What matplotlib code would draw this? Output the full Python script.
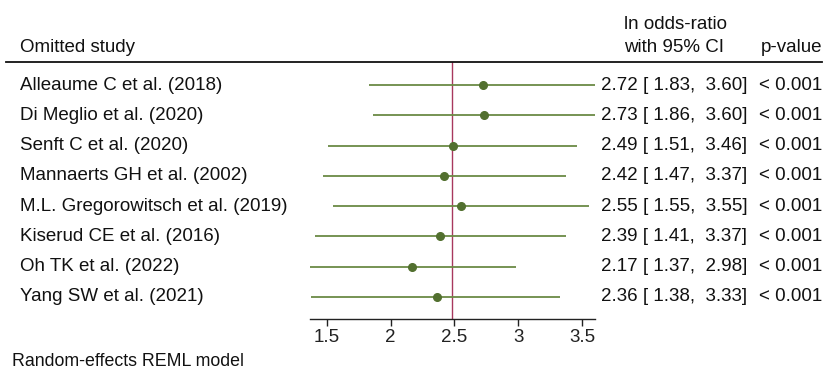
import matplotlib
matplotlib.use("Agg")
import matplotlib.pyplot as plt
from matplotlib.lines import Line2D
import matplotlib.transforms as mtrans

studies = ["Alleaume C et al. (2018)", "Di Meglio et al. (2020)", "Senft C et al. (2020)",
           "Mannaerts GH et al. (2002)", "M.L. Gregorowitsch et al. (2019)",
           "Kiserud CE et al. (2016)", "Oh TK et al. (2022)", "Yang SW et al. (2021)"]
est = [2.72, 2.73, 2.49, 2.42, 2.55, 2.39, 2.17, 2.36]
lo = [1.83, 1.86, 1.51, 1.47, 1.55, 1.41, 1.37, 1.38]
hi = [3.60, 3.60, 3.46, 3.37, 3.55, 3.37, 2.98, 3.33]
pvals = ["< 0.001"] * 8
overall = 2.485
xticks = [1.5, 2, 2.5, 3, 3.5]
xticklabels = ["1.5", "2", "2.5", "3", "3.5"]

plt.rcParams['font.family'] = ['Liberation Sans', 'DejaVu Sans']
W, H = 827, 374
fig = plt.figure(figsize=(W / 100, H / 100), dpi=100)
FS = 13.5

def fx(px):
    return px / W

def fy(py):
    return 1 - py / H

# plot axes: x 310..595 px, y 62..319 px
ax = fig.add_axes([fx(310), fy(319), fx(595) - fx(310), fy(62) - fy(319)])
ax.set_xlim(min(lo), max(hi))
n = len(studies)
rows = list(range(1, n + 1))
ax.set_ylim(n + 0.73, 0.24)

green = '#6b8a45'
dark = '#52702f'
ax.axvline(overall, color='#a8385e', lw=1.0, zorder=1)
ax.hlines(rows, lo, hi, color=green, lw=1.3, zorder=2)
ax.plot(est, rows, 'o', color=dark, ms=5.5, zorder=3)

for s in ['top', 'right', 'left']:
    ax.spines[s].set_visible(False)
ax.spines['bottom'].set_color('#222222')
ax.spines['bottom'].set_linewidth(1.0)
ax.set_yticks([])
ax.set_xticks(xticks)
ax.set_xticklabels(xticklabels, fontsize=FS, color='#222222')
ax.tick_params(axis='x', direction='out', length=5, width=1.0, color='#222222', pad=2)
ax.patch.set_alpha(0)

blend = mtrans.blended_transform_factory(fig.transFigure, ax.transData)

for r, s, e, l, h, p in zip(rows, studies, est, lo, hi, pvals):
    ax.text(fx(20), r, s, transform=blend, fontsize=FS, va='center', ha='left', color='#111111')
    ax.text(fx(601), r, f"{e:.2f} [ {l:.2f},  {h:.2f}]", transform=blend, fontsize=FS,
            va='center', ha='left', color='#111111')
    ax.text(fx(822), r, p, transform=blend, fontsize=FS, va='center', ha='right', color='#111111')

# header
fig.text(fx(20), fy(52), "Omitted study", fontsize=FS, va='baseline', ha='left', color='#111111')
fig.text(fx(675), fy(29), "ln odds-ratio", fontsize=FS, va='baseline', ha='center', color='#111111')
fig.text(fx(674), fy(52), "with 95% CI", fontsize=FS, va='baseline', ha='center', color='#111111')
fig.text(fx(822), fy(52), "p-value", fontsize=FS, va='baseline', ha='right', color='#111111')
fig.add_artist(Line2D([fx(6), fx(822)], [fy(62), fy(62)], transform=fig.transFigure, color='#111111', lw=1.3))

fig.text(fx(12), fy(362), "Random-effects REML model", fontsize=12.8, va='center', ha='left', color='#111111')

fig.savefig("out.png", dpi=100)
